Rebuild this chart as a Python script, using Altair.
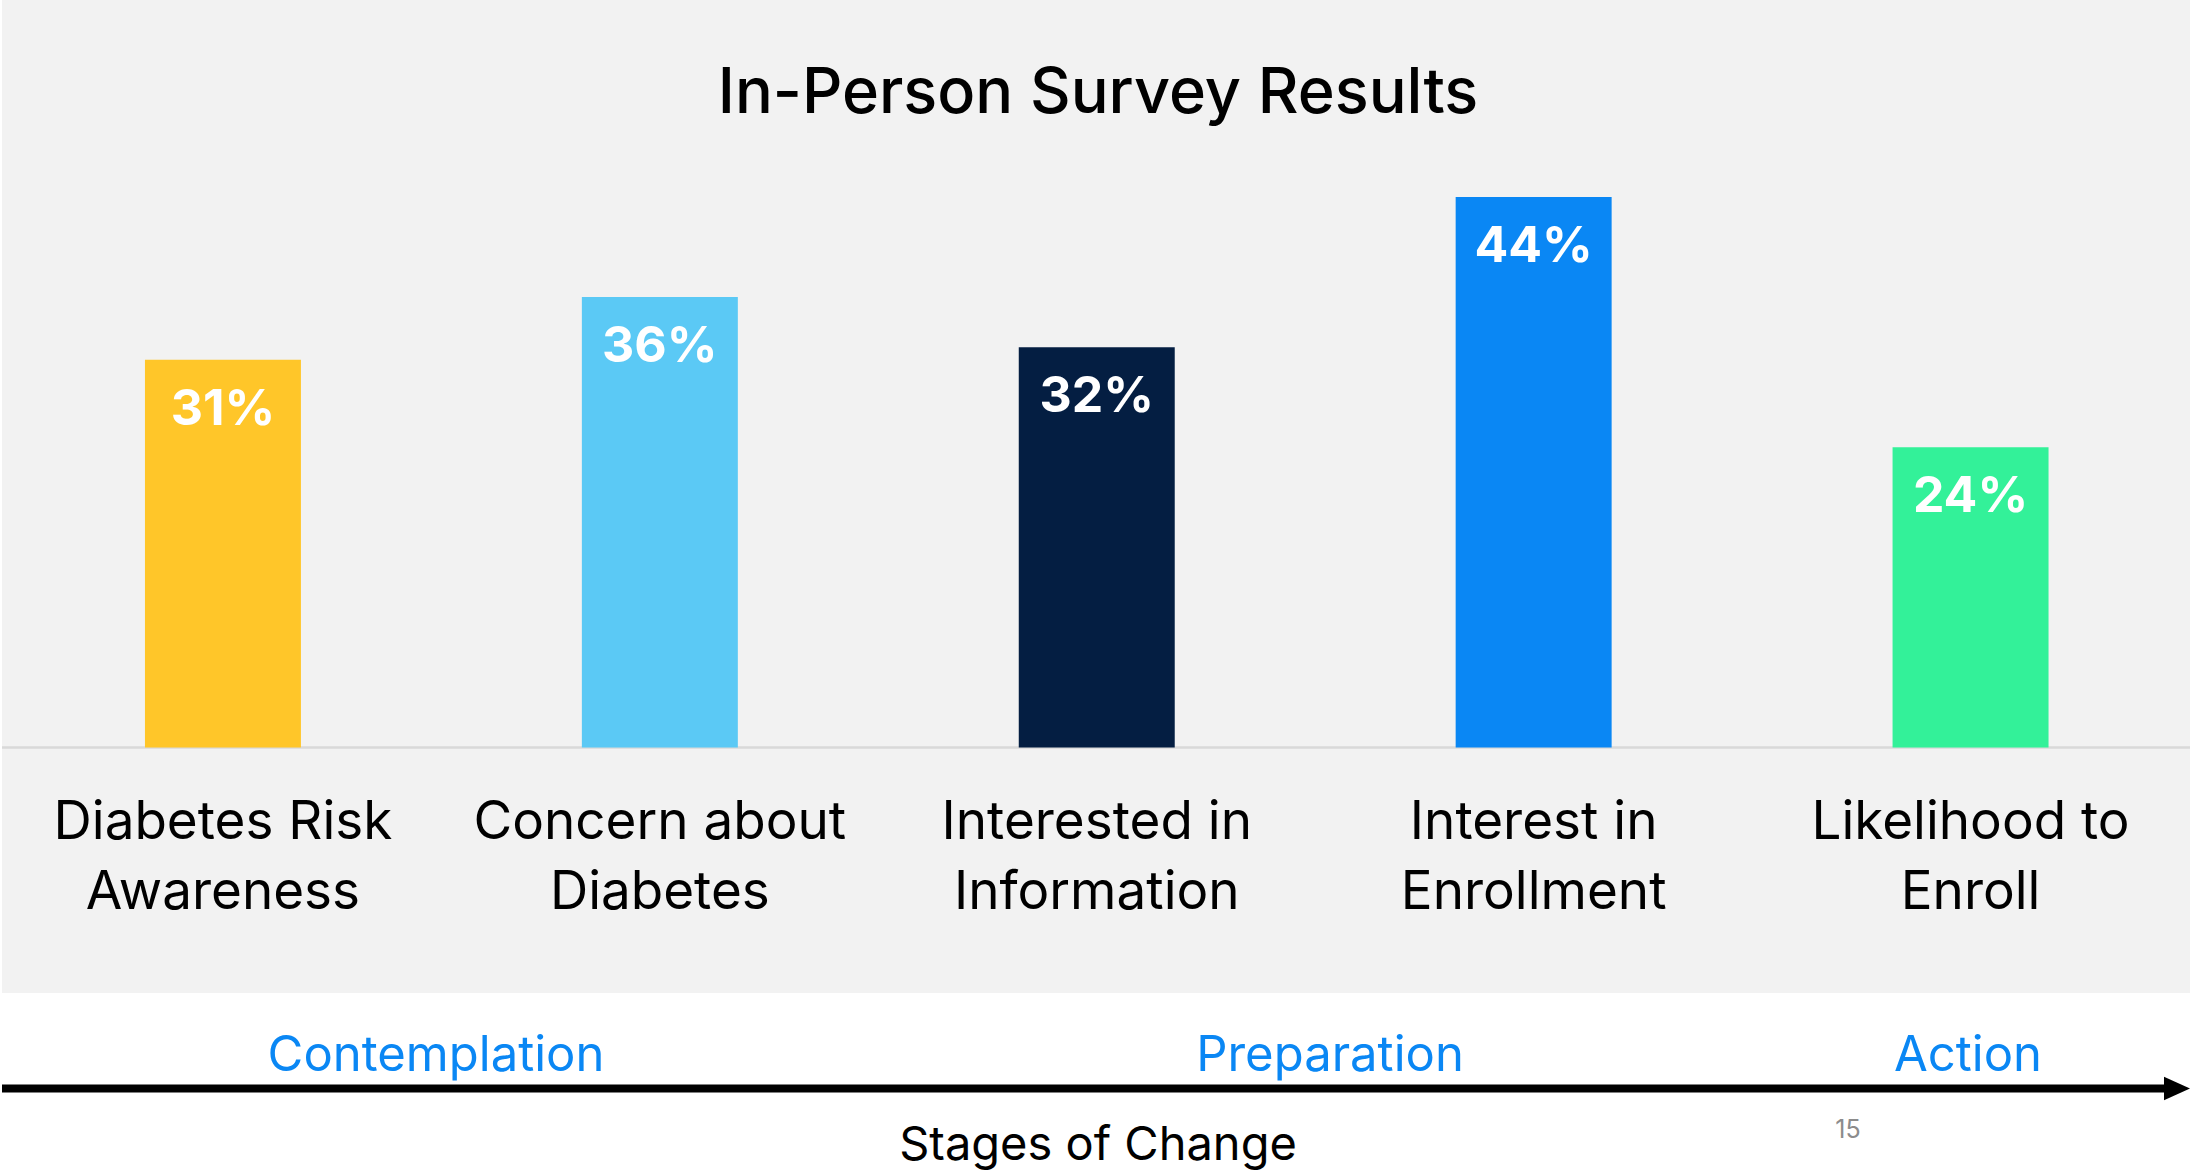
import altair as alt
import pandas as pd

# ---- data ----
categories = [
    "Diabetes Risk\nAwareness",
    "Concern about\nDiabetes",
    "Interested in\nInformation",
    "Interest in\nEnrollment",
    "Likelihood to\nEnroll",
]
values = [31, 36, 32, 44, 24]
value_labels = [f"{v}%" for v in values]
bar_colors = ["#FFC629", "#5BC9F5", "#041E42", "#0A87F4", "#33F199"]
stages = ["Contemplation", "Preparation", "Action"]
title_text = "In-Person Survey Results"
axis_title = "Stages of Change"
page_number = "15"

# ---- layout / style constants ----
W, H = 2190, 1171
FONT = "Inter"
stage_x = [436, 1330, 1968]
BLUE = "#0A87F4"

df = pd.DataFrame({"cat": categories, "value": values, "label": value_labels})
one = pd.DataFrame({"a": [0]})

xscale = alt.Scale(domain=categories, range=[4.5, 2189], paddingInner=0.643, paddingOuter=0.3215)
yscale = alt.Scale(domain=[0, 44], range=[747.5, 197], nice=False, zero=True)

X = alt.X("cat:N", scale=xscale, axis=None, sort=categories)

panel = alt.Chart(one).mark_rect(color="#F2F2F2").encode(
    x=alt.value(2), x2=alt.value(W), y=alt.value(0), y2=alt.value(993)
)

bars = alt.Chart(df).mark_bar().encode(
    x=X,
    y=alt.Y("value:Q", scale=yscale, axis=None),
    color=alt.Color("cat:N", scale=alt.Scale(domain=categories, range=bar_colors), legend=None),
)

baseline = alt.Chart(one).mark_rule(color="#D9D9D9", strokeWidth=2.5).encode(
    x=alt.value(2), x2=alt.value(W), y=alt.Y(datum=0, type="quantitative", scale=yscale, axis=None)
)

pct = alt.Chart(df).mark_text(
    color="white", font=FONT, fontSize=50, fontWeight="bold", baseline="middle", dy=50
).encode(x=X, y=alt.Y("value:Q", scale=yscale, axis=None), text="label:N")

cat_labels = alt.Chart(df).mark_text(
    color="black", font=FONT, fontSize=53, baseline="alphabetic", lineBreak="\n", lineHeight=70
).encode(x=X, y=alt.value(839), text="cat:N")

title = alt.Chart(one).mark_text(
    color="black", font=FONT, fontSize=63, fontWeight=500, baseline="alphabetic", text=title_text
).encode(x=alt.value(1098), y=alt.value(113))

stage_layers = []
for s, sx in zip(stages, stage_x):
    stage_layers.append(
        alt.Chart(one).mark_text(
            color=BLUE, font=FONT, fontSize=49, baseline="alphabetic", text=s
        ).encode(x=alt.value(sx), y=alt.value(1071))
    )

arrow_line = alt.Chart(one).mark_rule(color="black", strokeWidth=8).encode(
    x=alt.value(2), x2=alt.value(2170), y=alt.value(1088.5)
)
arrow_head = alt.Chart(one).mark_point(
    shape="M-1,-0.9L1,0L-1,0.9Z", filled=True, color="black", opacity=1, size=676, strokeWidth=0
).encode(x=alt.value(2177), y=alt.value(1088.5))

axis_lbl = alt.Chart(one).mark_text(
    color="black", font=FONT, fontSize=47, baseline="alphabetic", text=axis_title
).encode(x=alt.value(1098), y=alt.value(1160))

page = alt.Chart(one).mark_text(
    color="#8C8C8C", font=FONT, fontSize=25, baseline="alphabetic", text=page_number
).encode(x=alt.value(1848), y=alt.value(1138))

chart = alt.layer(
    panel, baseline, bars, pct, cat_labels, title, *stage_layers, arrow_line, arrow_head, axis_lbl, page
).properties(
    width=W, height=H, autosize=alt.AutoSizeParams(type="none"), padding=0, background="white"
).configure_view(stroke=None)

chart.save("out.html", embed_options={"renderer": "svg", "actions": False})
